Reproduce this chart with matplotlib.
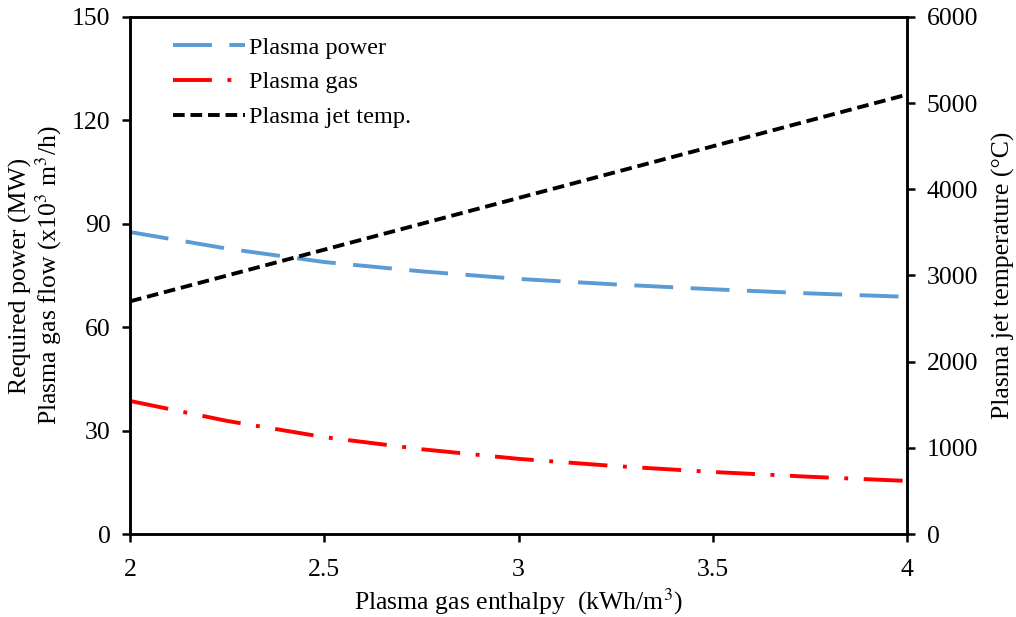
import matplotlib
matplotlib.use("Agg")
import matplotlib.pyplot as plt
import numpy as np

enthalpy = [2.0, 2.25, 2.5, 2.75, 3.0, 3.25, 3.5, 3.75, 4.0]
plasma_power = [87.6, 82.8, 78.9, 76.2, 74.0, 72.4, 71.0, 69.8, 68.8]
plasma_gas = [38.6, 32.8, 28.1, 24.6, 21.8, 19.7, 18.0, 16.6, 15.4]
jet_temp = [2700, 3000, 3300, 3600, 3900, 4200, 4500, 4800, 5100]

plt.rcParams['font.family'] = ['Liberation Serif', 'DejaVu Serif']
plt.rcParams['mathtext.fontset'] = 'stix'

fig = plt.figure(figsize=(10.16, 6.17), dpi=100)
ax = fig.add_axes([0.128, 0.1345, 0.765, 0.838])
ax2 = ax.twinx()

l1, = ax.plot(enthalpy, plasma_power, color='#5B9BD5', lw=2.8, dashes=(10, 4.5), label='Plasma power')
l2, = ax.plot(enthalpy, plasma_gas, color='#FF0000', lw=2.8, dashes=(10, 4, 1, 4), label='Plasma gas')
l3, = ax2.plot(enthalpy, jet_temp, color='black', lw=2.8, dashes=(3, 1.5), label='Plasma jet temp.')

ax.set_xlim(2, 4)
ax.set_ylim(0, 150)
ax2.set_ylim(0, 6000)
ax.set_xticks([2, 2.5, 3, 3.5, 4])
ax.set_xticklabels(['2', '2.5', '3', '3.5', '4'])
ax.set_yticks([0, 30, 60, 90, 120, 150])
ax2.set_yticks([0, 1000, 2000, 3000, 4000, 5000, 6000])

for a in (ax, ax2):
    for s in a.spines.values():
        s.set_linewidth(1.8)
    a.tick_params(direction='out', length=6, width=1.8, labelsize=18.5, colors='black', pad=8)
ax.tick_params(axis='x', pad=12)

ax.set_xlabel('Plasma gas enthalpy  (kWh/m$^3$)', fontsize=18.5, labelpad=4)
ax.set_ylabel('Required power (MW)\nPlasma gas flow (x10$^3$ m$^3$/h)', fontsize=18.5, labelpad=6, linespacing=1.05)
ax2.set_ylabel('Plasma jet temperature (°C)', fontsize=18.5, labelpad=10)

leg = ax.legend(handles=[l1, l2, l3], loc='upper left', bbox_to_anchor=(0.027, 1.004), frameon=False,
                fontsize=17.5, handlelength=2.95, handletextpad=0.2, labelspacing=0.52)

fig.savefig('out.png', dpi=100)
